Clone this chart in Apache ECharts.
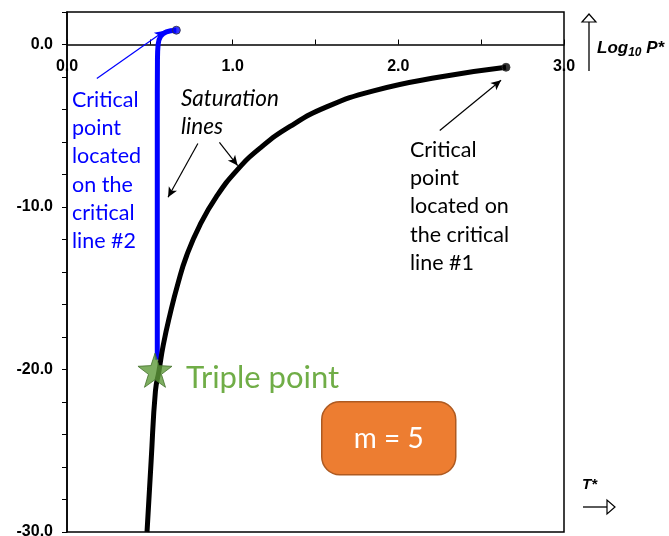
<!DOCTYPE html>
<html>
<head>
<meta charset="utf-8">
<script src="https://cdn.jsdelivr.net/npm/echarts@6/dist/echarts.min.js"></script>
<style>
  html, body { margin: 0; padding: 0; background: #fff; }
  #chart { width: 669px; height: 536px; }
</style>
</head>
<body>
<div id="chart"></div>
<script>
// saturation line #1 (black) and #2 (blue)
var blackT = [0.483, 0.508, 0.534, 0.555, 0.581, 0.622, 0.67, 0.722, 0.803, 0.903, 1.024, 1.165, 1.346, 1.567, 1.85, 2.25, 2.65]
var blackLogP = [-30, -25.6, -21.3, -20.1, -18.5, -16.6, -14.7, -13.0, -11.1, -9.35, -7.76, -6.38, -5.04, -3.84, -2.85, -2.0, -1.4]
var blueT = [0.545, 0.545, 0.546, 0.55, 0.565, 0.60, 0.66]
var blueLogP = [-19.4, -5, -1, 0, 0.5, 0.78, 0.88]
var critical1 = [2.65, -1.4]
var critical2 = [0.66, 0.88]
var triplePoint = [0.531, -20.05]

// annotation arrows, in data units
var arrows = [
  { from: [0.18, -2.09], to: [0.59, 0.84], color: '#0000ff' },
  { from: [2.25, -5.29], to: [2.62, -2.2], color: '#000' },
  { from: [0.79, -6.09], to: [0.61, -9.4], color: '#000' },
  { from: [0.92, -6.03], to: [1.03, -7.45], color: '#000' }
]

var zip = function (a, b) { return a.map(function (v, i) { return [v, b[i]] }) }

var starPath = 'path://M50,0 L61.8,36.2 L100,38.2 L69.1,61.8 L80.9,100 L50,77.6 L19.1,100 L30.9,61.8 L0,38.2 L38.2,36.2 Z'

var gridTop = 12
var gridBottom = 4
var plotH = 536 - gridTop - gridBottom
var yMin = -30
var yMax = 2
// pull the T axis up from the bottom edge to logP = 0
var zeroOffset = -(plotH * (0 - yMin) / (yMax - yMin))

var option = {
  backgroundColor: '#fff',
  animation: false,
  grid: {
    left: 67, right: 105, top: gridTop, bottom: gridBottom,
    containLabel: false,
    outerBoundsMode: 'none',
    show: true, borderColor: '#000', borderWidth: 1.5
  },
  xAxis: {
    type: 'value',
    position: 'bottom',
    offset: zeroOffset,
    min: 0, max: 3, interval: 0.5,
    axisLine: { onZero: false, lineStyle: { color: '#000', width: 1.5 } },
    axisTick: { inside: true, length: 5, lineStyle: { color: '#000' } },
    splitLine: { show: false },
    axisLabel: {
      margin: 14,
      color: '#000', fontFamily: 'Liberation Sans', fontWeight: 'bold', fontSize: 16,
      showMinLabel: true, showMaxLabel: true,
      formatter: function (v) { return Math.abs(v - Math.round(v)) < 1e-6 ? v.toFixed(1) : '' }
    }
  },
  yAxis: {
    type: 'value',
    min: yMin, max: yMax, interval: 2,
    axisLine: { show: true, onZero: false, lineStyle: { color: '#000', width: 1.5 } },
    axisTick: { show: true, length: 5, lineStyle: { color: '#000' } },
    splitLine: { show: false },
    axisLabel: {
      margin: 14,
      color: '#000', fontFamily: 'Liberation Sans', fontWeight: 'bold', fontSize: 16,
      formatter: function (v) { return v % 10 === 0 ? v.toFixed(1) : '' }
    }
  },
  series: [{
    name: 'line1',
    type: 'line',
    data: zip(blackT, blackLogP),
    smooth: 0.5,
    showSymbol: false,
    lineStyle: { color: '#000', width: 5 },
    z: 3
  }, {
    name: 'line2',
    type: 'line',
    data: zip(blueT, blueLogP),
    smooth: 0.4,
    showSymbol: false,
    lineStyle: { color: '#0000ff', width: 5 },
    z: 2
  }, {
    name: 'critical',
    type: 'scatter',
    data: [
      { value: critical1, itemStyle: { color: '#000' } },
      { value: critical2, itemStyle: { color: '#0000ff' } }
    ],
    symbol: 'circle',
    symbolSize: 8,
    itemStyle: { borderColor: '#333', borderWidth: 1 },
    z: 4,
    markLine: {
      silent: true,
      symbol: ['none', 'arrow'],
      symbolSize: [7, 10],
      label: { show: false },
      lineStyle: { type: 'solid', width: 1.2 },
      data: arrows.map(function (a) {
        return [{ coord: a.from, lineStyle: { color: a.color }, itemStyle: { color: a.color } },
          { coord: a.to }]
      })
    }
  }, {
    name: 'triple',
    type: 'scatter',
    data: [triplePoint],
    symbol: starPath,
    symbolSize: 34,
    itemStyle: { color: '#5e9a3a', borderColor: '#43722a', borderWidth: 1 },
    z: 5
  }],
  graphic: [
    {
      type: 'text', left: 72, top: 86,
      style: {
        text: 'Critical\npoint\nlocated\non the\ncritical\nline #2',
        fill: '#0000ff', font: '21.5px Lato', lineHeight: 28.2
      }
    },
    {
      type: 'text', left: 181, top: 85,
      style: { text: 'Saturation\nlines', fill: '#000', font: 'italic 22.5px Lato', lineHeight: 28 }
    },
    {
      type: 'text', left: 410, top: 136,
      style: {
        text: 'Critical\npoint\nlocated on\nthe critical\nline #1',
        fill: '#000', font: '21.5px Lato', lineHeight: 28.2
      }
    },
    {
      type: 'text', left: 186, top: 362,
      style: { text: 'Triple point', fill: '#70ad47', font: '31px Lato' }
    },
    {
      type: 'group', left: 321, top: 401,
      children: [{
        type: 'rect',
        shape: { x: 0, y: 0, width: 134, height: 73, r: 18 },
        style: { fill: '#ed7d31', stroke: '#ae5a21', lineWidth: 1.5 }
      }, {
        type: 'text',
        style: { text: 'm = 5', x: 67, y: 37, fill: '#fff', font: '28px Lato', align: 'center', verticalAlign: 'middle' }
      }]
    },
    // Log10 P* arrow
    {
      type: 'line', shape: { x1: 589, y1: 71, x2: 589, y2: 22 },
      style: { stroke: '#000', lineWidth: 1.3 }
    },
    {
      type: 'polygon', shape: { points: [[582, 22], [596, 22], [589, 14]] },
      style: { fill: '#fff', stroke: '#000', lineWidth: 1.2 }
    },
    {
      type: 'text', left: 597, top: 40,
      style: {
        text: '{a|Log}{s|10}{a| P*}',
        rich: {
          a: { font: 'italic bold 17px "Liberation Sans"', fill: '#000' },
          s: { font: 'italic bold 12px "Liberation Sans"', fill: '#000', padding: [9, 0, 0, 0] }
        }
      }
    },
    // T* arrow
    {
      type: 'text', left: 582, top: 477,
      style: { text: 'T*', font: 'italic bold 15px "Liberation Sans"', fill: '#000' }
    },
    {
      type: 'line', shape: { x1: 583, y1: 507, x2: 607, y2: 507 },
      style: { stroke: '#000', lineWidth: 1.3 }
    },
    {
      type: 'polygon', shape: { points: [[607, 500], [607, 514], [615, 507]] },
      style: { fill: '#fff', stroke: '#000', lineWidth: 1.2 }
    }
  ]
}

var chart = echarts.init(document.getElementById('chart'))
chart.setOption(option)
</script>
</body>
</html>
